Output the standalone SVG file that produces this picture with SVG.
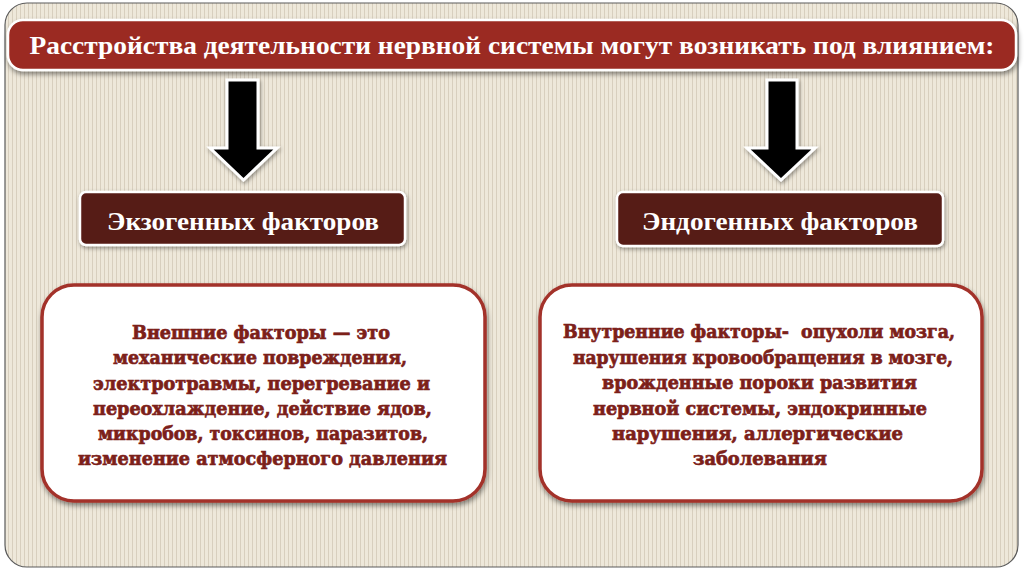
<svg xmlns="http://www.w3.org/2000/svg" width="1024" height="574" viewBox="0 0 1024 574">
<defs>
<pattern id="stripes" width="4" height="10" patternUnits="userSpaceOnUse">
<rect width="4" height="10" fill="#eee8da"/>
<rect width="1" height="10" fill="#d8cfbe"/>
</pattern>
<filter id="sh" x="-10%" y="-20%" width="120%" height="150%">
<feDropShadow dx="1" dy="3" stdDeviation="2.5" flood-color="#000" flood-opacity="0.45"/>
</filter>
<filter id="sh2" x="-10%" y="-10%" width="120%" height="130%">
<feDropShadow dx="1" dy="2" stdDeviation="2" flood-color="#000" flood-opacity="0.4"/>
</filter>
</defs>
<style>
.title{font-family:"Liberation Serif","DejaVu Serif",serif;font-weight:bold;fill:#ffffff;text-anchor:middle}
.hdr{fill:#561a15;stroke:#ffffff;stroke-width:2.5}
.desc{fill:#ffffff;stroke:#a3322a;stroke-width:3.5}
.dt{font-family:"DejaVu Serif","Liberation Serif",serif;font-weight:bold;fill:#7c2019;stroke:#7c2019;stroke-width:0.7;text-anchor:middle;font-size:19px}
.arrow{fill:#000000;stroke:#ffffff;stroke-width:3;stroke-linejoin:miter}
</style>
<rect width="1024" height="574" fill="#ffffff"/>
<rect x="5" y="3" width="1013" height="564" rx="22" fill="url(#stripes)" stroke="#5a5a5a" stroke-width="1.2"/>

<g id="title">
<rect x="8" y="20" width="1008" height="50" rx="15" fill="#9b2b22" stroke="#ffffff" stroke-width="2.5" filter="url(#sh)"/>
<text class="title" x="512" y="54" font-size="25" textLength="965" lengthAdjust="spacingAndGlyphs">Расстройства деятельности нервной системы могут возникать под влиянием:</text>
</g>

<g id="connectors">
<polygon class="arrow" filter="url(#sh2)" points="227,80 258,80 258,148 277,148 243.5,180 210,148 227,148"/>
<polygon class="arrow" filter="url(#sh2)" points="767,80 797,80 797,148 815,148 781,180 747,148 767,148"/>
</g>

<g id="exo">
<rect class="hdr" x="80" y="192" width="325" height="53" rx="6" filter="url(#sh2)"/>
<text class="title" x="243" y="230" font-size="26" textLength="272" lengthAdjust="spacingAndGlyphs">Экзогенных факторов</text>
</g>

<g id="endo">
<rect class="hdr" x="617" y="192" width="326" height="54" rx="6" filter="url(#sh2)"/>
<text class="title" x="780" y="230" font-size="26" textLength="276" lengthAdjust="spacingAndGlyphs">Эндогенных факторов</text>
</g>

<g id="exo-desc">
<rect class="desc" x="42" y="285" width="443" height="216" rx="32" filter="url(#sh)"/>
<text class="dt" x="261" y="339" textLength="258" lengthAdjust="spacingAndGlyphs">Внешние факторы — это</text>
<text class="dt" x="260" y="364" textLength="294" lengthAdjust="spacingAndGlyphs">механические повреждения,</text>
<text class="dt" x="261.5" y="389.5" textLength="337" lengthAdjust="spacingAndGlyphs">электротравмы, перегревание и</text>
<text class="dt" x="262.5" y="415" textLength="339" lengthAdjust="spacingAndGlyphs">переохлаждение, действие ядов,</text>
<text class="dt" x="263" y="440" textLength="330" lengthAdjust="spacingAndGlyphs">микробов, токсинов, паразитов,</text>
<text class="dt" x="262.5" y="465" textLength="369" lengthAdjust="spacingAndGlyphs">изменение атмосферного давления</text>
</g>

<g id="endo-desc">
<rect class="desc" x="540" y="285" width="442" height="216" rx="32" filter="url(#sh)"/>
<text class="dt" x="759" y="338" textLength="392" lengthAdjust="spacingAndGlyphs" xml:space="preserve">Внутренние факторы-  опухоли мозга,</text>
<text class="dt" x="763" y="363.5" textLength="380" lengthAdjust="spacingAndGlyphs">нарушения кровообращения в мозге,</text>
<text class="dt" x="759.5" y="389" textLength="315" lengthAdjust="spacingAndGlyphs">врожденные пороки развития</text>
<text class="dt" x="760" y="414.5" textLength="334" lengthAdjust="spacingAndGlyphs">нервной системы, эндокринные</text>
<text class="dt" x="757.5" y="440" textLength="291" lengthAdjust="spacingAndGlyphs">нарушения, аллергические</text>
<text class="dt" x="760" y="465" textLength="134" lengthAdjust="spacingAndGlyphs">заболевания</text>
</g>
</svg>
